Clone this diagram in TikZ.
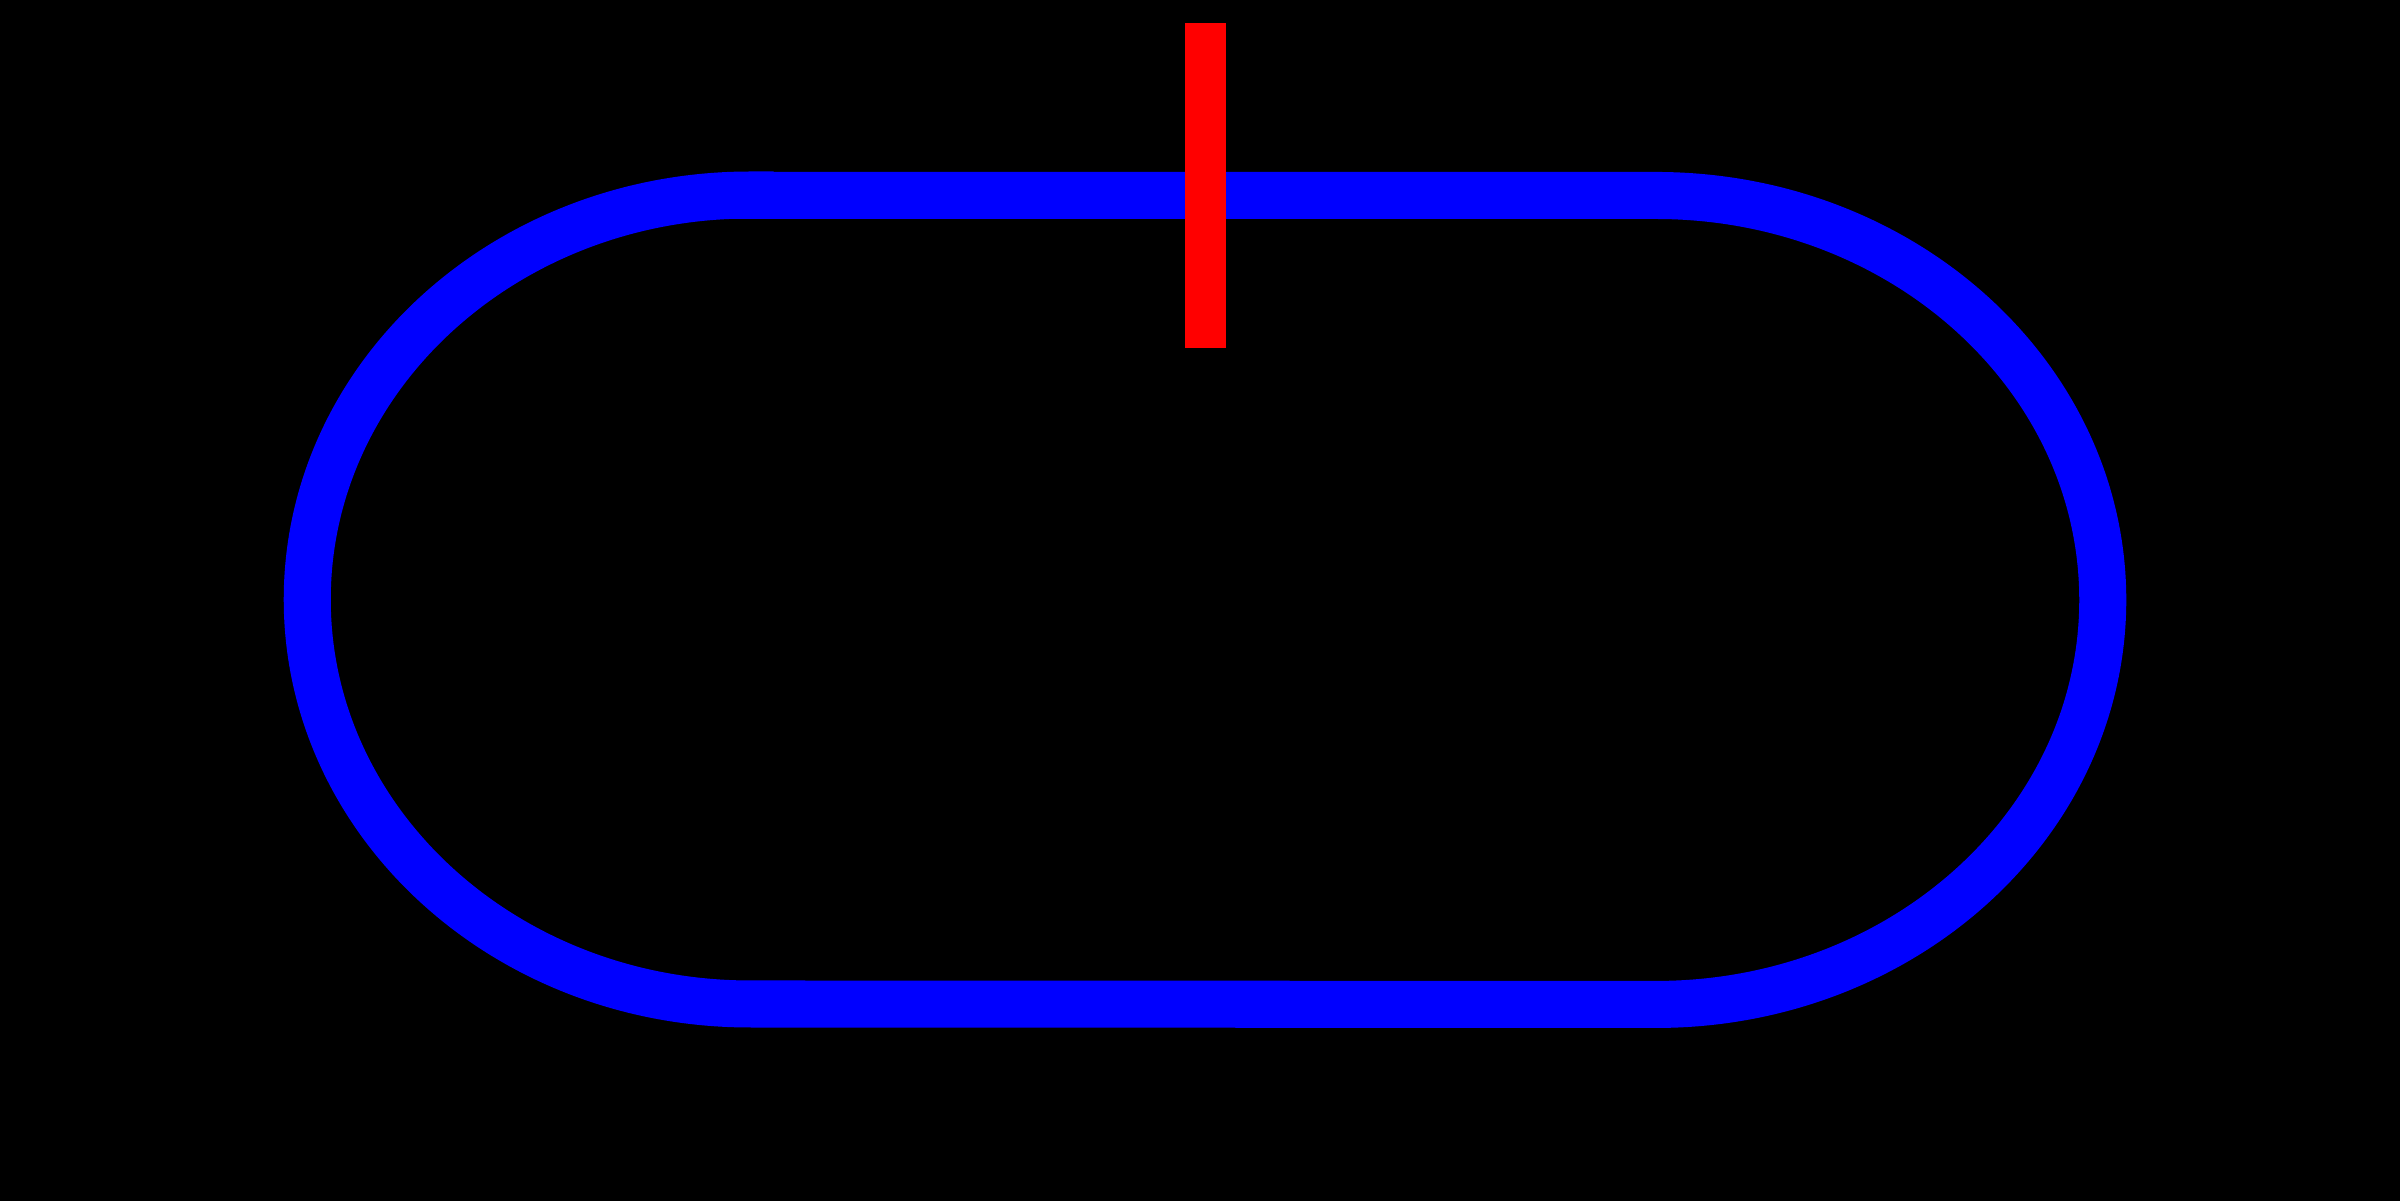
\documentclass[tikz,border=0pt]{standalone}
\begin{document}
\begin{tikzpicture}[x=0.01cm,y=0.01cm,
  track/.style={draw={rgb,255:red,0;green,0;blue,255},line width=0.47cm},
  marker/.style={fill={rgb,255:red,255;green,0;blue,0}}]
\fill[black] (0,0) rectangle (2400,1201);
\useasboundingbox (0,0) rectangle (2400,1201);
\draw[track] (750,1005.5) -- (1656,1005.5)
  arc[start angle=90,end angle=-90,x radius=4.465cm,y radius=4.0425cm]
  -- (750,197)
  arc[start angle=270,end angle=90,x radius=4.425cm,y radius=4.0425cm]
  -- cycle;
\fill[marker] (1185,853) rectangle (1226,1178);
\end{tikzpicture}
\end{document}
